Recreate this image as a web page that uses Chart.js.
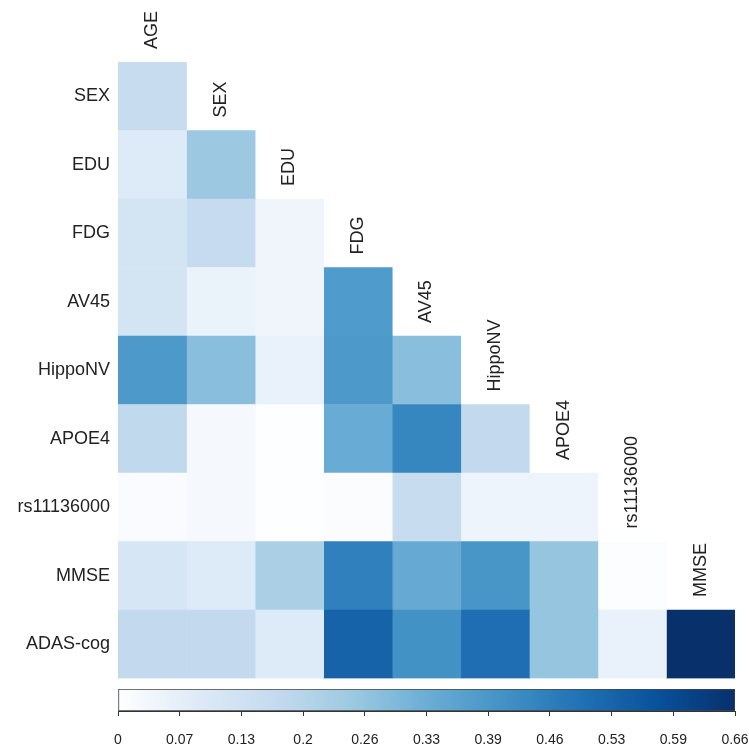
<!DOCTYPE html>
<html>
<head>
<meta charset="utf-8">
<script src="https://cdn.jsdelivr.net/npm/chart.js@4/dist/chart.umd.min.js"></script>
<style>
    html, body { margin: 0; padding: 0; background: #fff; }
    #wrap { position: relative; width: 749px; height: 748px; }
    #heat { position: absolute; left: 0; top: 0; }
    #bar { position: absolute; left: 0; top: 680px; }
</style>
</head>
<body>
<div id="wrap">
    <canvas id="heat" width="749" height="748"></canvas>
    <canvas id="bar" width="749" height="68"></canvas>
</div>
<script>
const rowLabels = ['SEX', 'EDU', 'FDG', 'AV45', 'HippoNV', 'APOE4', 'rs11136000', 'MMSE', 'ADAS-cog'];
const colLabels = ['AGE', 'SEX', 'EDU', 'FDG', 'AV45', 'HippoNV', 'APOE4', 'rs11136000', 'MMSE'];

// lower triangle, one array per row (values against AGE, SEX, ...)
const rowSEX = [0.16];
const rowEDU = [0.085, 0.25];
const rowFDG = [0.12, 0.165, 0.04];
const rowAV45 = [0.12, 0.05, 0.04, 0.385];
const rowHippoNV = [0.39, 0.28, 0.055, 0.39, 0.28];
const rowAPOE4 = [0.175, 0.025, 0.005, 0.335, 0.44, 0.17];
const rowRs = [0.015, 0.025, 0.005, 0.012, 0.16, 0.045, 0.045];
const rowMMSE = [0.11, 0.085, 0.22, 0.455, 0.34, 0.40, 0.26, 0.01];
const rowADAS = [0.17, 0.17, 0.085, 0.53, 0.41, 0.50, 0.26, 0.055, 0.658];

const cbMax = 0.658;
const cbTickLabels = ['0', '0.07', '0.13', '0.2', '0.26', '0.33', '0.39', '0.46', '0.53', '0.59', '0.66'];

const blues = ['#ffffff', '#deebf7', '#c6dbef', '#9ecae1', '#6baed6', '#4292c6', '#2171b5', '#08519c', '#08306b'];

const rows = [rowSEX, rowEDU, rowFDG, rowAV45, rowHippoNV, rowAPOE4, rowRs, rowMMSE, rowADAS];
const FONT = "'Liberation Sans', Arial, sans-serif";

function hexToRgb(h) {
    return [parseInt(h.slice(1, 3), 16), parseInt(h.slice(3, 5), 16), parseInt(h.slice(5, 7), 16)];
}

function colorFor(v) {
    let t = Math.max(0, Math.min(1, v / cbMax)) * (blues.length - 1);
    let i = Math.min(Math.floor(t), blues.length - 2);
    let f = t - i;
    const a = hexToRgb(blues[i]), b = hexToRgb(blues[i + 1]);
    const c = a.map((x, k) => Math.round(x + (b[k] - x) * f));
    return `rgb(${c[0]},${c[1]},${c[2]})`;
}

const datasets = colLabels.map((col, j) => ({
    label: col,
    data: rows.map(r => j < r.length ? [j, j + 1] : null),
    backgroundColor: ctx => {
        const r = rows[ctx.dataIndex];
        return r && r[j] != null ? colorFor(r[j]) : 'rgba(0,0,0,0)';
    },
    borderWidth: 0,
    barPercentage: 1,
    categoryPercentage: 1,
    grouped: false
}));

const colLabelPlugin = {
    id: 'colLabels',
    afterDatasetsDraw(chart) {
        const ctx = chart.ctx;
        ctx.save();
        ctx.font = `18px ${FONT}`;
        ctx.fillStyle = '#222';
        ctx.textAlign = 'left';
        ctx.textBaseline = 'middle';
        colLabels.forEach((col, j) => {
            const el = chart.getDatasetMeta(j).data[j];
            if (!el) return;
            const xMid = (el.x + el.base) / 2;
            const top = el.y - el.height / 2;
            ctx.save();
            ctx.translate(xMid, top - 13);
            ctx.rotate(-Math.PI / 2);
            ctx.fillText(col, 0, 0);
            ctx.restore();
        });
        ctx.restore();
    }
};

new Chart(document.getElementById('heat'), {
    type: 'bar',
    data: { labels: rowLabels, datasets },
    options: {
        indexAxis: 'y',
        responsive: false,
        animation: false,
        layout: { padding: { left: 0, right: 14, top: 62, bottom: 69.5 } },
        plugins: { legend: { display: false }, tooltip: { enabled: false } },
        scales: {
            x: { type: 'linear', min: 0, max: colLabels.length, display: false },
            y: {
                grid: { display: false, drawTicks: false },
                border: { display: false },
                ticks: { color: '#222', font: { family: FONT, size: 18 }, padding: 8 },
                afterFit(scale) { scale.width = 118; }
            }
        }
    },
    plugins: [colLabelPlugin]
});

new Chart(document.getElementById('bar'), {
    type: 'bar',
    data: {
        labels: ['scale'],
        datasets: [{
            data: [[0, cbMax]],
            backgroundColor: ctx => {
                const area = ctx.chart.chartArea;
                if (!area) return blues[4];
                const g = ctx.chart.ctx.createLinearGradient(area.left, 0, area.right, 0);
                blues.forEach((c, i) => g.addColorStop(i / (blues.length - 1), c));
                return g;
            },
            borderColor: '#444',
            borderWidth: 1,
            borderSkipped: false,
            barPercentage: 1,
            categoryPercentage: 1
        }]
    },
    options: {
        indexAxis: 'y',
        responsive: false,
        animation: false,
        layout: { padding: { left: 118, right: 14, top: 9, bottom: 0 } },
        plugins: { legend: { display: false }, tooltip: { enabled: false } },
        scales: {
            y: { display: false },
            x: {
                type: 'linear',
                min: 0,
                max: cbMax,
                afterBuildTicks(scale) {
                    scale.ticks = cbTickLabels.map((_, k) => ({ value: cbMax * k / (cbTickLabels.length - 1) }));
                },
                afterFit(scale) {
                    scale.height = 37;
                    scale.paddingLeft = 0;
                    scale.paddingRight = 0;
                },
                grid: { drawOnChartArea: false, tickLength: 5, color: '#333' },
                border: { color: '#333' },
                ticks: {
                    autoSkip: false,
                    maxRotation: 0,
                    padding: 16,
                    color: '#222',
                    font: { family: FONT, size: 14 },
                    callback: (v, i) => cbTickLabels[i]
                }
            }
        }
    }
});
</script>
</body>
</html>
